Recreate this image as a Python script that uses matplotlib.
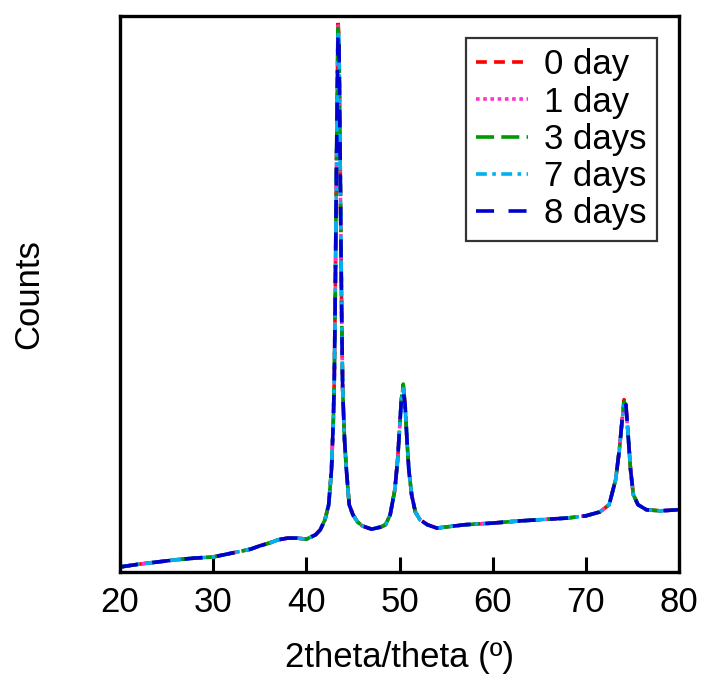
import matplotlib
matplotlib.use("Agg")
import matplotlib.pyplot as plt
from matplotlib import font_manager

# Diffraction angle (degrees) and measured intensity profile
two_theta = [20, 22, 24, 26, 28, 30, 32, 34, 35, 36, 37, 38, 39, 40, 41, 41.5,
             42, 42.4, 42.7, 42.9, 43.0, 43.1, 43.2, 43.3, 43.4, 43.5, 43.6,
             43.7, 43.8, 43.9, 44.1, 44.3, 44.6, 45, 45.5, 46, 47, 48, 48.5,
             49, 49.5, 49.8, 50.0, 50.2, 50.4, 50.6, 50.8, 51.0, 51.3, 51.7,
             52.2, 53, 54, 55, 57, 60, 63, 66, 68, 70, 71.5, 72.5, 73.2, 73.6,
             73.9, 74.1, 74.3, 74.5, 74.8, 75.1, 75.6, 76.5, 78, 80]
counts_base = [9, 14, 18, 22, 25, 27, 34, 41, 47, 52, 58, 61, 61, 59, 67, 76,
               94, 121, 184, 274, 346, 490, 670, 832, 990, 958, 796,
               616, 454, 328, 238, 184, 121, 103, 90, 83, 77, 81, 85,
               103, 148, 202, 256, 310, 335, 301, 238, 184, 139, 108,
               94, 85, 79, 81, 85, 88, 92, 95, 97, 101, 108, 121, 166, 220,
               274, 306, 301, 256, 184, 139, 121, 112, 110, 112]

series_labels = ["0 day", "1 day", "3 days", "7 days", "8 days"]
# Peak-top intensities of each sample at the three reflections
peak_angles = [43.4, 50.4, 74.1]
peak_tops = {
    "0 day": [994, 336, 310],
    "1 day": [986, 332, 304],
    "3 days": [978, 338, 306],
    "7 days": [972, 330, 300],
    "8 days": [968, 326, 296],
}

colors = ["#ff0000", "#ff33cc", "#009900", "#00b0f0", "#0000cc"]
styles = [(0, (3, 2)), (0, (1, 1)), (0, (5, 2, 5, 2, 1, 2)), (0, (3, 1.5, 1, 1.5)), (0, (5, 4))]

names = {f.name for f in font_manager.fontManager.ttflist}
main_font = "Liberation Sans" if "Liberation Sans" in names else "DejaVu Sans"
plt.rcParams["font.family"] = main_font

fig = plt.figure(figsize=(7.03, 6.89), dpi=100)
ax = fig.add_axes([120 / 703, 117 / 689, 559 / 703, 556 / 689])

for label, color, ls in zip(series_labels, colors, styles):
    y = list(counts_base)
    for ang, top in zip(peak_angles, peak_tops[label]):
        y[two_theta.index(ang)] = top
    ax.plot(two_theta, y, color=color, linestyle=ls, linewidth=2.6, label=label)

ax.set_xlim(20, 80)
ax.set_ylim(0, 1000)
ax.set_xticks([20, 30, 40, 50, 60, 70, 80])
ax.set_yticks([])
ax.tick_params(axis="x", direction="in", length=11, width=2.2, pad=10, labelsize=25)
for sp in ax.spines.values():
    sp.set_linewidth(2.4)

ax.set_xlabel("2theta/theta (º)", fontsize=25, labelpad=16)
ax.set_ylabel("Counts", fontsize=25, labelpad=54)

leg = ax.legend(loc="upper right", bbox_to_anchor=(1 - 22 / 559, 1 - 22 / 556),
                borderaxespad=0, fontsize=25, frameon=True, fancybox=False,
                handlelength=1.5, handletextpad=0.45, labelspacing=0.12,
                borderpad=0.3)
leg.get_frame().set_edgecolor("black")
leg.get_frame().set_linewidth(1.6)

fig.savefig("out.png", dpi=100)
